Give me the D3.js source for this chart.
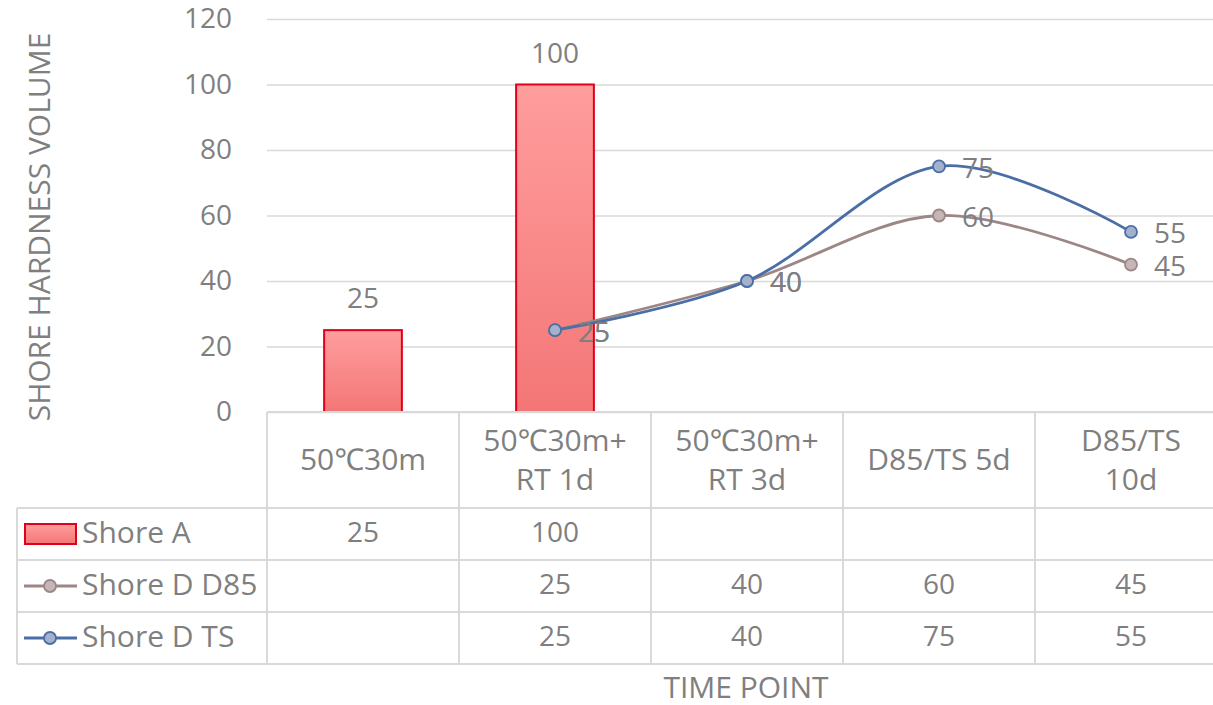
<!DOCTYPE html>
<html>
<head>
<meta charset="utf-8">
<script src="https://cdn.jsdelivr.net/npm/d3@7"></script>
<style>
  html, body { margin: 0; padding: 0; background: #fff; }
  svg { display: block; }
  text { font-family: "Open Sans", "Noto Sans", "DejaVu Sans", sans-serif; fill: #7f7f7f; }
</style>
</head>
<body>
<svg id="chart" width="1213" height="705"></svg>
<script>
// ---- data ----
const categories = ["50℃30m", "50℃30m+\nRT 1d", "50℃30m+\nRT 3d", "D85/TS 5d", "D85/TS\n10d"];
const shoreA   = [25, 100, null, null, null];
const shoreD85 = [null, 25, 40, 60, 45];
const shoreTS  = [null, 25, 40, 75, 55];
const yTicks = [0, 20, 40, 60, 80, 100, 120];
const seriesNames = ["Shore A", "Shore D D85", "Shore D TS"];
const yTitle = "SHORE HARDNESS VOLUME";
const xTitle = "TIME POINT";

// ---- layout ----
const W = 1213, H = 705;
const plotLeft = 267, plotRight = 1227, plotTop = 19, plotBottom = 412;
const tableLeft = 17;
const headerBottom = 508;
const rowH = 52;
const numSize = 28;
const textSize = 30;
const gridColor = "#d9d9d9";

const svg = d3.select("#chart");

const x = d3.scaleBand().domain(d3.range(categories.length)).range([plotLeft, plotRight]).paddingInner(0).paddingOuter(0);
const y = d3.scaleLinear().domain([0, 120]).range([plotBottom, plotTop]);

// gradient
const defs = svg.append("defs");
const grad = defs.append("linearGradient").attr("id", "barGrad").attr("x1", 0).attr("y1", 0).attr("x2", 0).attr("y2", 1);
grad.append("stop").attr("offset", "0%").attr("stop-color", "#ff9d9d");
grad.append("stop").attr("offset", "100%").attr("stop-color", "#f47676");

// gridlines
const yAxis = d3.axisLeft(y).tickValues(yTicks).tickSize(-(W - plotLeft)).tickFormat(d => d).tickPadding(35);
const gAxis = svg.append("g").attr("transform", `translate(${plotLeft},0)`).call(yAxis);
gAxis.select(".domain").remove();
gAxis.selectAll(".tick line").attr("stroke", gridColor).attr("stroke-width", 1.5);
gAxis.selectAll(".tick text").attr("font-size", numSize).style("fill", "#7f7f7f")
  .attr("font-family", '"Open Sans", sans-serif');

// y title
svg.append("text")
  .attr("transform", `translate(42, 227) rotate(-90)`)
  .attr("text-anchor", "middle")
  .attr("dominant-baseline", "middle")
  .attr("font-size", textSize)
  .text(yTitle);

// bars
const barW = x.bandwidth() * 0.405;
svg.append("g").selectAll("rect")
  .data(shoreA.map((v, i) => ({v, i})).filter(d => d.v != null))
  .join("rect")
  .attr("x", d => x(d.i) + x.bandwidth() / 2 - barW / 2)
  .attr("y", d => y(d.v))
  .attr("width", barW)
  .attr("height", d => y(0) - y(d.v))
  .attr("fill", "url(#barGrad)")
  .attr("stroke", "#e0001b")
  .attr("stroke-width", 2);

// bar labels
svg.append("g").selectAll("text")
  .data(shoreA.map((v, i) => ({v, i})).filter(d => d.v != null))
  .join("text")
  .attr("x", d => x(d.i) + x.bandwidth() / 2)
  .attr("y", d => y(d.v) - 22)
  .attr("text-anchor", "middle")
  .attr("font-size", numSize)
  .text(d => d.v);

// axis baseline
svg.append("line").attr("x1", plotLeft).attr("x2", W).attr("y1", y(0)).attr("y2", y(0))
  .attr("stroke", gridColor).attr("stroke-width", 2);

// lines
const lineSeries = [
  {values: shoreD85, stroke: "#9d8686", fill: "#c5b7b7"},
  {values: shoreTS,  stroke: "#4a6ea6", fill: "#a3b1cd"}
];
const line = d3.line()
  .x(d => x(d.i) + x.bandwidth() / 2)
  .y(d => y(d.v))
  .curve(d3.curveCardinal.tension(0));

lineSeries.forEach(s => {
  const pts = s.values.map((v, i) => ({v, i})).filter(d => d.v != null);
  const g = svg.append("g");
  g.append("path").datum(pts).attr("d", line)
    .attr("fill", "none").attr("stroke", s.stroke).attr("stroke-width", 2.8);
  g.selectAll("circle").data(pts).join("circle")
    .attr("cx", d => x(d.i) + x.bandwidth() / 2)
    .attr("cy", d => y(d.v))
    .attr("r", 6)
    .attr("fill", s.fill)
    .attr("stroke", s.stroke)
    .attr("stroke-width", 1.8);
  s.pts = pts;
});
lineSeries.forEach(s => {
  svg.append("g").selectAll("text").data(s.pts).join("text")
    .attr("x", d => x(d.i) + x.bandwidth() / 2 + 23)
    .attr("y", d => y(d.v) + 4)
    .attr("dominant-baseline", "middle")
    .attr("font-size", numSize)
    .text(d => d.v);
});

// ---- data table ----
const tg = svg.append("g");
const rowsTop = [headerBottom, headerBottom + rowH, headerBottom + 2 * rowH];
const tableBottom = headerBottom + 3 * rowH;
tg.append("line").attr("x1", plotLeft).attr("x2", W).attr("y1", plotBottom).attr("y2", plotBottom);
[headerBottom, headerBottom + rowH, headerBottom + 2 * rowH, tableBottom].forEach(yy => {
  tg.append("line").attr("x1", tableLeft).attr("x2", W).attr("y1", yy).attr("y2", yy);
});
tg.append("line").attr("x1", tableLeft).attr("x2", tableLeft).attr("y1", headerBottom).attr("y2", tableBottom);
d3.range(categories.length + 1).forEach(i => {
  const xx = i < categories.length ? x(i) : plotRight;
  tg.append("line").attr("x1", xx).attr("x2", xx).attr("y1", plotBottom).attr("y2", tableBottom);
});
tg.selectAll("line").attr("stroke", gridColor).attr("stroke-width", 2);

// header text
categories.forEach((c, i) => {
  const lines = c.split("\n");
  const cx = x(i) + x.bandwidth() / 2;
  const cy = (plotBottom + headerBottom) / 2 + 2;
  const lh = 39;
  const t = svg.append("text").attr("text-anchor", "middle").attr("font-size", textSize);
  lines.forEach((l, k) => {
    t.append("tspan").attr("x", cx)
      .attr("y", cy + (k - (lines.length - 1) / 2) * lh)
      .attr("dominant-baseline", "middle")
      .text(l);
  });
});

// rows
const rowData = [shoreA, shoreD85, shoreTS];
rowData.forEach((vals, r) => {
  const cy = rowsTop[r] + rowH / 2 + 1;
  vals.forEach((v, i) => {
    if (v == null) return;
    svg.append("text").attr("x", x(i) + x.bandwidth() / 2).attr("y", cy)
      .attr("text-anchor", "middle").attr("dominant-baseline", "middle")
      .attr("font-size", numSize).text(v);
  });
  svg.append("text").attr("x", 82).attr("y", cy)
    .attr("dominant-baseline", "middle").attr("font-size", textSize).text(seriesNames[r]);
});

// legend keys
const k0 = rowsTop[0] + rowH / 2;
svg.append("rect").attr("x", 25).attr("y", k0 - 10).attr("width", 51).attr("height", 20)
  .attr("fill", "url(#barGrad)").attr("stroke", "#e0001b").attr("stroke-width", 2);
lineSeries.forEach((s, k) => {
  const cy = rowsTop[k + 1] + rowH / 2;
  svg.append("line").attr("x1", 24).attr("x2", 77).attr("y1", cy).attr("y2", cy)
    .attr("stroke", s.stroke).attr("stroke-width", 2.8);
  svg.append("circle").attr("cx", 50).attr("cy", cy).attr("r", 6)
    .attr("fill", s.fill).attr("stroke", s.stroke).attr("stroke-width", 1.8);
});

// x title
svg.append("text").attr("x", (plotLeft + plotRight) / 2 - 1).attr("y", 690)
  .attr("text-anchor", "middle").attr("dominant-baseline", "middle")
  .attr("font-size", textSize).text(xTitle);
</script>
</body>
</html>
